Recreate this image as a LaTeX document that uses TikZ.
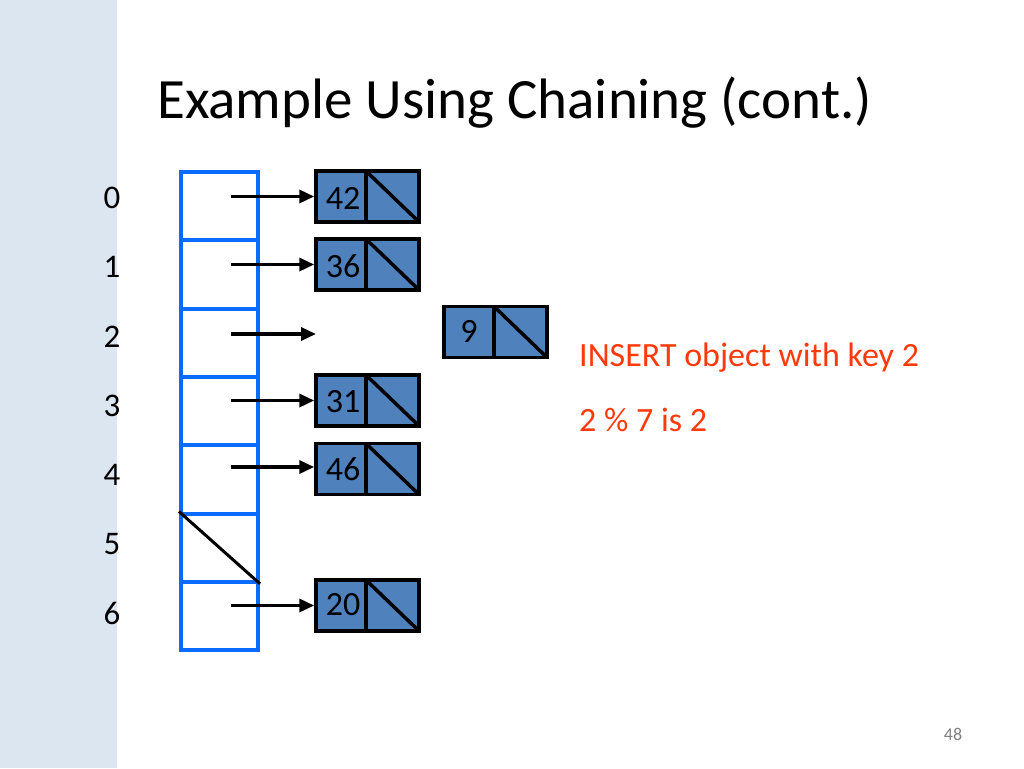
\documentclass[tikz,border=0pt]{standalone}
\usepackage{fontspec}
\setmainfont{Carlito}
\usetikzlibrary{arrows.meta}
\definecolor{sidebar}{HTML}{DCE6F0}
\definecolor{tblue}{HTML}{0A6CFF}
\definecolor{nfill}{HTML}{4F81BD}
\definecolor{redtxt}{HTML}{FF3A0A}
\begin{document}
\begin{tikzpicture}[x=1pt,y=-1pt,
  cell/.style={draw=tblue,line width=4pt,minimum width=77pt,minimum height=68.3pt,inner sep=0pt,anchor=north west},
  listnode/.style={draw=black,fill=nfill,line width=3.5pt,minimum width=103pt,minimum height=51pt,inner sep=0pt,
    path picture={\draw[line width=3.5pt] ([xshift=-1.5pt]path picture bounding box.north) -- ([xshift=-1.5pt]path picture bounding box.south);
      \draw[line width=3.5pt] ([xshift=-1.5pt]path picture bounding box.north) -- (path picture bounding box.south east);}},
  keytxt/.style={font=\fontsize{34}{34}\selectfont,inner sep=0pt},
  idx/.style={font=\fontsize{33}{33}\selectfont,inner sep=0pt},
  ptr/.style={line width=3.5pt,-{Triangle[length=15pt,width=13pt]}},
  red/.style={text=redtxt,font=\fontsize{34}{34}\selectfont,inner sep=0pt,anchor=west}]
\useasboundingbox (0,0) rectangle (1024,768);
\fill[white] (0,0) rectangle (1024,768);
\fill[sidebar] (0,0) rectangle (117,768);
\node[anchor=base west,inner sep=0pt,font=\fontsize{57}{57}\selectfont] (title) at (157,118) {Example Using Chaining (cont.)};
% table
\foreach \i in {0,...,6} {
  \node[cell] (c\i) at (179,{170+68.3*\i}) {};
  \node[idx] (l\i) at (112,{198+69.3*\i}) {\i};
}
\draw[line width=3pt] (c5.north west) -- (c5.south east);
% list nodes
\node[listnode] (n0) at (367.5,196.5) {};
\node[listnode] (n1) at (367.5,264.5) {};
\node[listnode] (n3) at (367.5,400.5) {};
\node[listnode] (n4) at (367.5,469) {};
\node[listnode] (n6) at (367.5,605.5) {};
\node[listnode] (n9) at (495.5,332) {};
\node[keytxt] (k0) at (343,198) {42};
\node[keytxt] (k1) at (343,266) {36};
\node[keytxt] (k3) at (343,402) {31};
\node[keytxt] (k4) at (343,469) {46};
\node[keytxt] (k6) at (343,605) {20};
\node[keytxt] (k9) at (469,331) {9};
% pointers
\coordinate (e2) at (316,334);
\draw[ptr] (231,196.5) -- (n0.west);
\draw[ptr] (231,264.5) -- (n1.west);
\draw[ptr] (231,334) -- (e2);
\draw[ptr] (231,400.5) -- (n3.west);
\draw[ptr] (231,467) -- (n4.west |- 0,467);
\draw[ptr] (231,605.5) -- (n6.west);
% red text
\node[red] (t1) at (579,358) {INSERT object with key 2};
\node[red] (t2) at (579,420) {2 \% 7 is 2};
\node[text=gray,font=\fontsize{18}{18}\selectfont,inner sep=0pt] (pg) at (953,734) {48};
\end{tikzpicture}
\end{document}
